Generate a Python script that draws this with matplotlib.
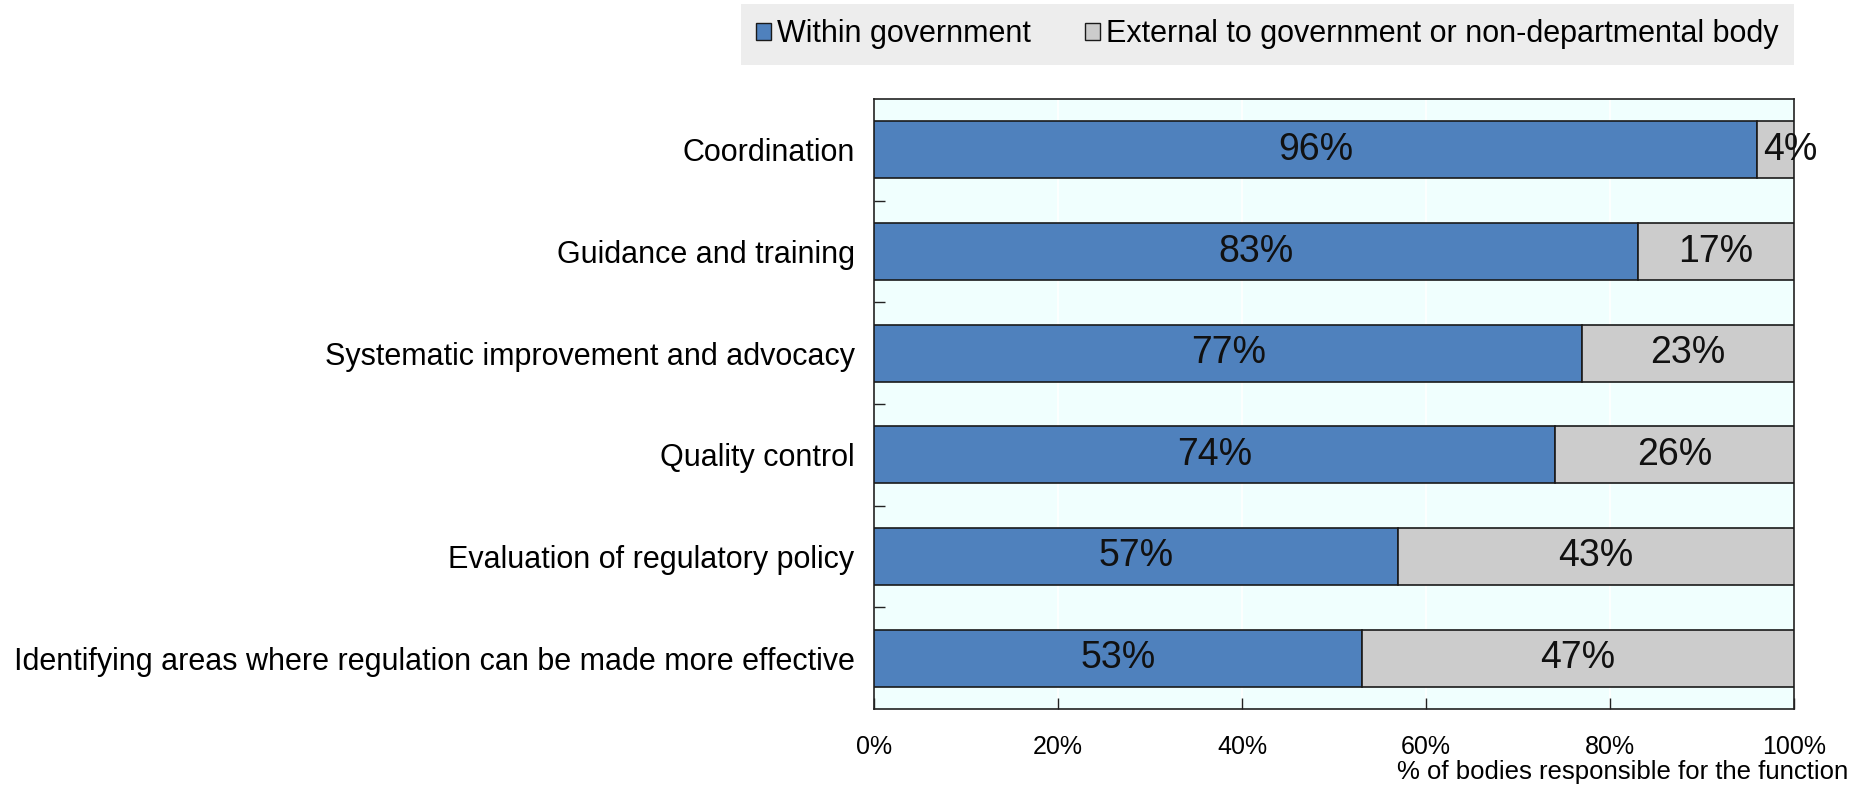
import numpy as np
import matplotlib
matplotlib.use('Agg')
import matplotlib.pyplot as plt
from matplotlib.patches import Patch

plt.rcParams['font.family'] = ['Liberation Sans', 'DejaVu Sans']

# share of bodies per function, by where the body sits
functions = [
    'Coordination',
    'Guidance and training',
    'Systematic improvement and advocacy',
    'Quality control',
    'Evaluation of regulatory policy',
    'Identifying areas where regulation can be made more effective',
]
within_gov = [96, 83, 77, 74, 57, 53]
external_gov = [4, 17, 23, 26, 43, 47]

series_names = ['Within government', 'External to government or non-departmental body']
blue = '#4f81bd'
grey = '#cccccc'

W, H = 1854, 786
fig = plt.figure(figsize=(W / 100, H / 100), dpi=100)
ax = fig.add_axes([874 / W, 1 - 709 / H, 920 / W, 610 / H])
ax.set_facecolor('#f0fffe')

y = np.arange(len(functions))
h = 0.56
b1 = ax.barh(y, within_gov, height=h, color=blue, edgecolor='#1a1a1a', linewidth=1.2, zorder=3)
b2 = ax.barh(y, external_gov, left=within_gov, height=h, color=grey,
             edgecolor='#1a1a1a', linewidth=1.2, zorder=3)

for bars, vals, lefts in ((b1, within_gov, [0] * len(y)), (b2, external_gov, within_gov)):
    for yi, v, l in zip(y, vals, lefts):
        # narrow segments: start the label at the segment edge and let it spill over
        if v < 10:
            x, ha = l + 0.6, 'left'
        else:
            x, ha = l + v / 2, 'center'
        ax.text(x, yi, f'{v}%', ha=ha, va='center', fontsize=27,
                color='#111111', zorder=4, clip_on=False)

ax.set_xlim(0, 100)
ax.set_ylim(len(functions) - 0.5, -0.5)

ax.set_xticks(np.arange(0, 101, 20))
ax.set_xticklabels([f'{t}%' for t in range(0, 101, 20)])
ax.tick_params(axis='x', direction='in', length=8, width=1, pad=19, labelsize=18, color='#222222')
ax.xaxis.grid(True, color='white', linewidth=1.2, zorder=0)

ax.set_yticks(y)
ax.set_yticklabels(functions)
ax.tick_params(axis='y', which='major', length=0, pad=14, labelsize=22)
ax.set_yticks(y[:-1] + 0.5, minor=True)
ax.tick_params(axis='y', which='minor', direction='in', length=8, width=1, color='#222222')

for s in ax.spines.values():
    s.set_color('#222222')
    s.set_linewidth(1.2)

ax.set_xlabel('% of bodies responsible for the function', fontsize=18.5, ha='right', va='center')
ax.xaxis.set_label_coords((1848 - 874) / 920, (709 - 772) / 610)

handles = [Patch(facecolor=blue, edgecolor='#1a1a1a', linewidth=1),
           Patch(facecolor=grey, edgecolor='#1a1a1a', linewidth=1)]
leg = fig.legend(handles, series_names, loc='upper right', bbox_to_anchor=(1794 / W, 1 - 4 / H),
                 ncol=2, fontsize=22, frameon=True, fancybox=False, borderpad=0.5,
                 handlelength=0.5, handleheight=0.5, handletextpad=0.2, columnspacing=1.75,
                 borderaxespad=0)
leg.get_frame().set_facecolor('#e9e9e9')
leg.get_frame().set_edgecolor('none')

fig.savefig('out.png', dpi=100)
